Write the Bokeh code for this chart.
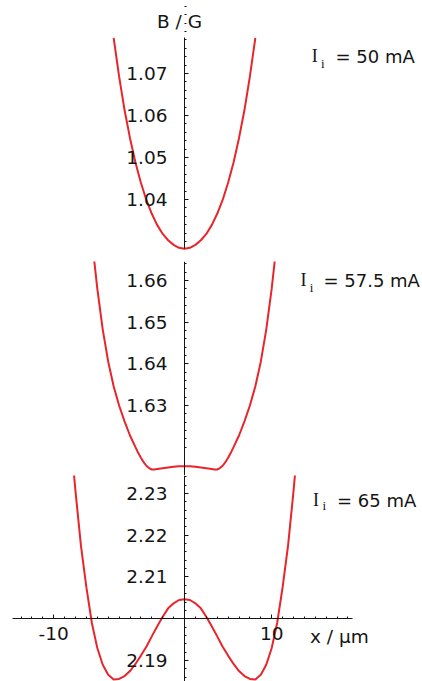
from bokeh.plotting import figure
from bokeh.models import Range1d, LinearAxis, FixedTicker, PrintfTickFormatter, Label
from bokeh.layouts import column
from bokeh.embed import file_html
from bokeh.resources import INLINE

# ---------------- data ----------------
# panel 1 : I_i = 50 mA  (curve ends where it leaves the plot at the top)
x1 = [-4.5, -4.0, -3.5, -3.0, -2.5, -2.0, -1.5, -1.0, -0.5, 0.0, 0.5, 1.0, 1.5,
      2.0, 2.5, 3.0, 3.5, 4.0, 4.5, 5.0, 5.5, 6.0, 6.5, 7.0, 7.5, 8.0, 8.5]
b1 = [1.0785, 1.0693, 1.0613, 1.0546, 1.0488, 1.0440, 1.0399, 1.0366, 1.0339,
      1.0318, 1.0303, 1.0292, 1.0285, 1.0283, 1.0285, 1.0292, 1.0303, 1.0318, 1.0339,
      1.0366, 1.0399, 1.0440, 1.0488, 1.0546, 1.0613, 1.0693, 1.0785]

# panel 2 : I_i = 57.5 mA
x2 = [-7.0, -6.5, -6.0, -5.5, -5.0, -4.5, -4.0, -3.5, -3.0, -2.5, -2.25, -2.0, -1.75,
      -1.5, -1.25, -1.0, -0.75, -0.5, 0.0, 0.5, 1.0, 1.5, 2.0,
      2.5, 3.0, 3.5, 4.0, 4.5, 4.75, 5.0, 5.25, 5.5, 5.75, 6.0, 6.25, 6.5, 7.0, 7.5,
      8.0, 8.5, 9.0, 9.5, 10.0, 10.5, 11.0]
b2 = [1.68400, 1.67000, 1.65800, 1.64820, 1.64050, 1.63460, 1.63000, 1.62620, 1.62280,
      1.62000, 1.61865, 1.61745, 1.61640, 1.61555, 1.61498, 1.61465, 1.61464, 1.61475,
      1.61495, 1.61514, 1.61530, 1.61540, 1.61544,
      1.61540, 1.61530, 1.61514, 1.61495, 1.61475, 1.61464, 1.61465, 1.61498, 1.61555,
      1.61640, 1.61745, 1.61865, 1.62000, 1.62280, 1.62620, 1.63000, 1.63460, 1.64050,
      1.64820, 1.65800, 1.67000, 1.68400]

# panel 3 : I_i = 65 mA
x3 = [-8.5, -8.0, -7.5, -7.0, -6.5, -6.0, -5.5, -5.0, -4.5, -4.0, -3.5, -3.0, -2.5, -2.0,
      -1.5, -1.0, -0.5, 0.0, 0.5, 1.0, 1.5, 2.0, 2.5, 3.0, 3.5, 4.0, 4.5, 5.0, 5.5, 6.0,
      6.5, 7.0, 7.5, 8.0, 8.5, 9.0, 9.5, 10.0, 10.5, 11.0, 11.5, 12.0, 12.5]
b3 = [2.2450, 2.2305, 2.2175, 2.2075, 2.1990, 2.1930, 2.1890, 2.1866, 2.1855, 2.1856,
      2.1863, 2.1875, 2.1892, 2.1912, 2.1933, 2.1958, 2.1982, 2.2005, 2.2025, 2.2037,
      2.2045, 2.2047, 2.2045, 2.2037, 2.2025, 2.2005, 2.1982, 2.1958, 2.1933, 2.1912,
      2.1892, 2.1875, 2.1863, 2.1856, 2.1855, 2.1866, 2.1890, 2.1930, 2.1990, 2.2075,
      2.2175, 2.2305, 2.2450]

currents = ["50", "57.5", "65"]
x_tick_labels = [-10, 10]
y_ticks1 = [1.04, 1.05, 1.06, 1.07]
y_ticks2 = [1.63, 1.64, 1.65, 1.66]
y_ticks3 = [2.19, 2.21, 2.22, 2.23]

# ---------------- style ----------------
RED = "#e8252b"
INK = "#151515"
SANS = "DejaVu Sans"
SERIF = "Liberation Serif"
FS = "18.5px"
X0 = 2.0                 # where the vertical axes sit
XR = Range1d(-14.881, 23.835)
W = 422


def make_fig(h, yr, top, bottom):
    p = figure(width=W, height=h, x_range=XR, y_range=yr,
               x_axis_type=None, y_axis_type=None, toolbar_location=None,
               output_backend="svg", min_border_left=0, min_border_right=0,
               min_border_top=top, min_border_bottom=bottom,
               outline_line_color=None, background_fill_color="white",
               border_fill_color="white", title=None)
    p.xgrid.visible = False
    p.ygrid.visible = False
    return p


def yaxis(ticks, bounds):
    step = 0.002
    lo = min(ticks) - 0.01
    minors = [round(lo + i * step, 4) for i in range(60)]
    ax = LinearAxis(fixed_location=X0,
                    ticker=FixedTicker(ticks=ticks, minor_ticks=minors),
                    formatter=PrintfTickFormatter(format="%.2f"),
                    bounds=bounds,
                    axis_line_color=INK, axis_line_width=1,
                    major_tick_line_color=INK, minor_tick_line_color=INK,
                    major_tick_in=4, major_tick_out=0, minor_tick_in=2, minor_tick_out=0,
                    major_label_standoff=17,
                    major_label_text_font=SANS, major_label_text_font_size=FS,
                    major_label_text_color=INK)
    return ax


def current_label(p, xI, yI, ysub, xeq, cur):
    p.add_layout(Label(x=xI, y=yI, text="I", text_font=SERIF, text_font_size="18px",
                       text_color=INK, text_baseline="middle"))
    p.add_layout(Label(x=xI + 0.85, y=ysub, text="i", text_font=SERIF, text_font_size="13px",
                       text_color=INK, text_baseline="middle"))
    p.add_layout(Label(x=xeq, y=yI, text="= " + cur + " mA", text_font=SANS,
                       text_font_size="18px", text_color=INK, text_baseline="middle"))


# ---------------- panel 1 ----------------
p1 = make_fig(261, Range1d(1.02786, 1.08738), 0, 11)
p1.line(x1, b1, line_color=RED, line_width=2)
p1.add_layout(yaxis(y_ticks1, (1.0283, 1.07857)), "left")
p1.add_layout(Label(x=1.54, y=1.08233, text="B / G", text_align="center",
                    text_baseline="middle", text_font=SANS, text_font_size=FS,
                    text_color=INK))
current_label(p1, 13.68, 1.07410, 1.07245, 15.85, currents[0])

# ---------------- panel 2 ----------------
p2 = make_fig(214, Range1d(1.61321, 1.66453), 0, 0)
p2.line(x2, b2, line_color=RED, line_width=2)
p2.add_layout(yaxis(y_ticks2, (1.61321, 1.66453)), "left")
current_label(p2, 12.65, 1.66007, 1.65835, 14.75, currents[1])

# ---------------- panel 3 ----------------
p3 = make_fig(206, Range1d(2.18500, 2.23428), 0, 0)
p3.line(x3, b3, line_color=RED, line_width=2)
p3.add_layout(yaxis(y_ticks3, (2.18500, 2.23428)), "left")
xax = LinearAxis(fixed_location=2.20,
                 ticker=FixedTicker(ticks=x_tick_labels, minor_ticks=list(range(-13, 18))),
                 formatter=PrintfTickFormatter(format="%d"),
                 bounds=(-13.8, 17.4),
                 axis_line_color=INK, axis_line_width=1,
                 major_tick_line_color=INK, minor_tick_line_color=INK,
                 major_tick_in=4, major_tick_out=0, minor_tick_in=2, minor_tick_out=0,
                 major_label_standoff=8,
                 major_label_text_font=SANS, major_label_text_font_size=FS,
                 major_label_text_color=INK)
p3.add_layout(xax, "below")
p3.add_layout(Label(x=13.51, y=2.19569, text="x / μm", text_font=SANS, text_font_size=FS,
                    text_color=INK, text_baseline="middle"))
current_label(p3, 13.80, 2.22840, 2.22703, 15.99, currents[2])

layout = column(p1, p2, p3, spacing=0)
open("out.html", "w").write(file_html(layout, INLINE))
